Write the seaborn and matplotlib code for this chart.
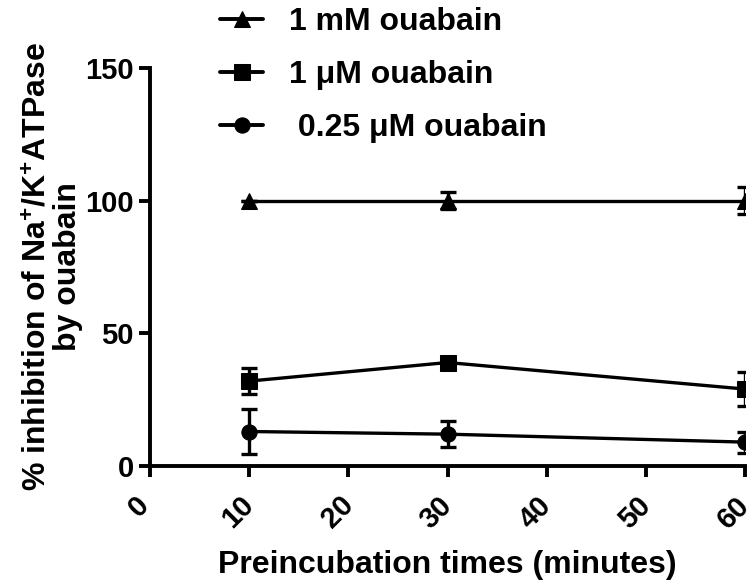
import matplotlib
matplotlib.use("Agg")
import matplotlib.pyplot as plt
import matplotlib.transforms as mtransforms
import seaborn as sns
import pandas as pd
import numpy as np

sns.set_theme(style="ticks")
plt.rcParams['font.family'] = ['Liberation Sans', 'DejaVu Sans']
plt.rcParams['font.weight'] = 'bold'
plt.rcParams['text.color'] = 'black'
plt.rcParams['mathtext.fontset'] = 'custom'
plt.rcParams['mathtext.rm'] = 'Liberation Sans:bold'
plt.rcParams['mathtext.bf'] = 'Liberation Sans:bold'
plt.rcParams['mathtext.it'] = 'Liberation Sans:bold'

# Data
times = [10, 30, 60]
series = ["1 mM ouabain", "1 \u03bcM ouabain", " 0.25 \u03bcM ouabain"]
mm1_mean = [100, 100, 100]
mm1_err = [0, 3.3, 5]
um1_mean = [32, 39, 29]
um1_err = [5, 1, 6.3]
um025_mean = [13, 12, 9]
um025_err = [8.3, 5, 4]
x_ticks = [0, 10, 20, 30, 40, 50, 60]
y_ticks = [0, 50, 100, 150]

means = [mm1_mean, um1_mean, um025_mean]
errs = [mm1_err, um1_err, um025_err]
markers = {series[0]: "^", series[1]: "s", series[2]: "o"}

rows = []
for s, m, e in zip(series, means, errs):
    for t, v, ev in zip(times, m, e):
        rows.append({"time": t, "value": v, "err": ev, "series": s})
df = pd.DataFrame(rows)

fig = plt.figure(figsize=(7.55, 5.84), dpi=100)
ax = fig.add_axes([150/755, (584-466)/584, (745-150)/755, (466-68)/584])

for s in series:
    d = df[df.series == s]
    ax.errorbar(d.time, d.value, yerr=d.err, fmt="none", ecolor="black",
                elinewidth=2.4, capsize=6, capthick=2.4, zorder=2)

sns.lineplot(data=df, x="time", y="value", style="series", markers=markers,
             dashes=False, color="black", linewidth=2.4, markersize=11,
             markeredgecolor="black", ax=ax, legend=True, zorder=3)

ax.set_xlim(0, 60)
ax.set_ylim(0, 150)
ax.set_xticks(x_ticks)
ax.set_yticks(y_ticks)
sns.despine(ax=ax)
for sp in ["left", "bottom"]:
    ax.spines[sp].set_linewidth(2.8)
    ax.spines[sp].set_color("black")
ax.tick_params(axis="both", width=2.8, length=8, color="black",
               labelsize=21, labelcolor="black")
ax.tick_params(axis="x", pad=10)
offset = mtransforms.ScaledTranslation(-11/100, 0, fig.dpi_scale_trans)
for lab in ax.get_xticklabels():
    lab.set_rotation(45)
    lab.set_ha("center")
    lab.set_fontweight("bold")
    lab.set_transform(lab.get_transform() + offset)
for lab in ax.get_yticklabels():
    lab.set_fontweight("bold")

ax.set_xlabel("Preincubation times (minutes)", fontsize=23, fontweight="bold",
              color="black", labelpad=12)
ax.set_ylabel("% inhibition of Na$^{+}$/K$^{+}$ATPase\nby ouabain", fontsize=23,
              fontweight="bold", color="black", labelpad=2, linespacing=1.0)

handles, labels = ax.get_legend_handles_labels()
ax.get_legend().remove()
for h in handles:
    h.set_color("black")
    h.set_linewidth(2.8)
    h.set_markersize(11)
fig.legend(handles, labels, loc="upper left",
           bbox_to_anchor=(204/755, 1.0 + 9/584),
           frameon=False, prop={"size": 23, "weight": "bold"},
           labelcolor="black",
           handlelength=1.35, handletextpad=0.8, labelspacing=0.72,
           borderpad=0.0)

fig.savefig("out.png", dpi=100)
